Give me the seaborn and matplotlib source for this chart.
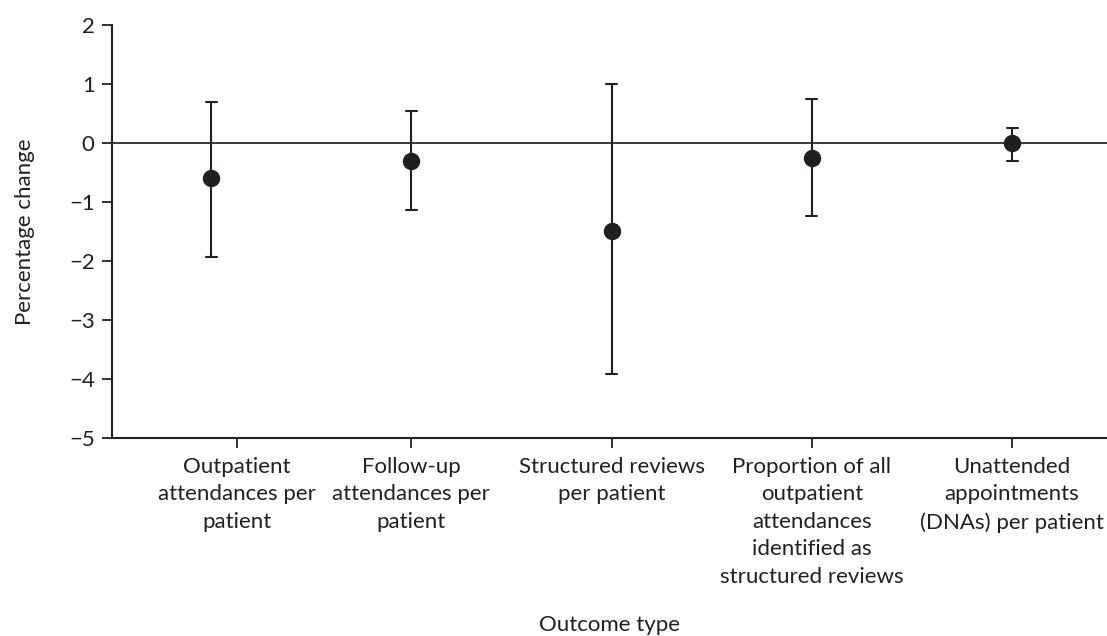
import numpy as np
import pandas as pd
import matplotlib
matplotlib.use("Agg")
import matplotlib.pyplot as plt
import seaborn as sns

# Outcomes and their estimated percentage change with 95% confidence limits
outcomes = [
    "Outpatient\nattendances per\npatient",
    "Follow-up\nattendances per\npatient",
    "Structured reviews\nper patient",
    "Proportion of all\noutpatient\nattendances\nidentified as\nstructured reviews",
    "Unattended\nappointments\n(DNAs) per patient",
]
estimate = [-0.59, -0.30, -1.49, -0.25, 0.00]
lower_ci = [-1.93, -1.14, -3.91, -1.24, -0.30]
upper_ci = [0.70, 0.55, 1.00, 0.75, 0.25]
y_ticks = [-5, -4, -3, -2, -1, 0, 1, 2]

# Long format: each outcome holds its lower limit, estimate and upper limit;
# the median gives the estimate and the full-range interval gives the CI.
rows = []
for name, lo, est, hi in zip(outcomes, lower_ci, estimate, upper_ci):
    for v in (lo, est, hi):
        rows.append({"outcome": name, "value": v})
df = pd.DataFrame(rows)

sns.set_theme(style="white")
plt.rcParams["font.family"] = ["Lato", "DejaVu Sans"]
ink = "#231f20"

fig = plt.figure(figsize=(11.07, 6.36), dpi=100)
ax = fig.add_axes([112 / 1107, 198 / 636, 995 / 1107, 413 / 636])

ax.axhline(0, color="#3c3c3c", lw=1.4, zorder=0)

sns.pointplot(
    data=df, x="outcome", y="value", order=outcomes,
    estimator="median", errorbar=("pi", 100),
    capsize=0.055, color=ink, linestyle="none",
    markersize=10.5, err_kws={"linewidth": 1.5}, ax=ax,
)

ax.set_xlim(-0.495, 4.474)
ax.set_ylim(-5, 2)
ax.set_yticks(y_ticks)
ax.set_yticklabels([f"{t}".replace("-", "\u2212") for t in y_ticks])
ax.set_xticks([0.13, 1, 2, 3, 4])
ax.set_xticklabels(outcomes, linespacing=1.47)

for side in ("top", "right"):
    ax.spines[side].set_visible(False)
for side in ("left", "bottom"):
    ax.spines[side].set_color(ink)
    ax.spines[side].set_linewidth(1.5)

ax.tick_params(axis="both", which="both", direction="out", length=7.5,
               width=1.3, color=ink, labelcolor=ink, labelsize=16)
ax.tick_params(axis="y", pad=5, left=True)
ax.tick_params(axis="x", pad=6, bottom=True)

ax.set_ylabel("Percentage change", fontsize=16, color=ink)
ax.set_xlabel("Outcome type", fontsize=16, color=ink)
ax.yaxis.set_label_coords(-0.077, 0.5)
ax.xaxis.set_label_coords(0.5, -0.428)

fig.savefig("out.png", dpi=100)
